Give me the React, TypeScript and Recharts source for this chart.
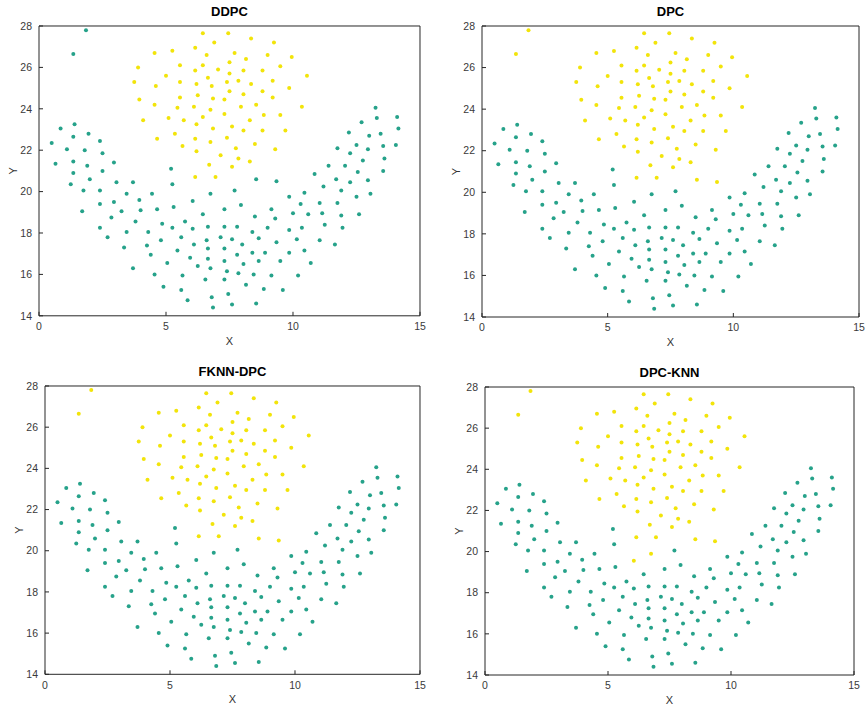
import React from 'react';
import { ScatterChart, Scatter, XAxis, YAxis } from 'recharts';

type Pt = [number, number];

// upper (flame) cluster
const upperCore: Pt[] = [
  [4.55, 26.7], [3.9, 26.0], [3.75, 25.3], [4.6, 25.1], [3.95, 24.45], [4.55, 24.2],
  [6.45, 27.65], [7.45, 27.65], [6.9, 27.2], [8.35, 27.4], [9.25, 27.2], [5.25, 26.8],
  [6.15, 26.95], [6.6, 26.6], [7.7, 26.7], [8.15, 26.4], [9.0, 26.6], [9.95, 26.5],
  [5.55, 26.1], [6.45, 26.1], [7.5, 26.25], [9.5, 26.05], [5.0, 25.6], [6.15, 25.85],
  [7.05, 25.9], [7.5, 25.7], [8.05, 25.85], [8.8, 25.85], [6.65, 25.5], [5.55, 25.3],
  [6.2, 25.2], [7.4, 25.3], [7.85, 25.35], [8.35, 25.2], [9.2, 25.35], [6.8, 25.1],
  [9.85, 25.0], [7.5, 24.85], [8.8, 24.85], [5.55, 24.55], [6.25, 24.65], [8.05, 24.7],
  [6.85, 24.5], [7.3, 24.45], [9.2, 24.55], [5.45, 24.05], [6.1, 24.1], [7.95, 24.1],
  [8.55, 24.2], [6.75, 23.95], [7.3, 23.75], [8.85, 23.7], [10.55, 25.6], [10.35, 24.1],
  [4.1, 23.45], [4.65, 22.55], [5.1, 23.55], [5.7, 23.45], [6.45, 23.6], [8.3, 23.45],
  [9.5, 23.7], [6.2, 23.25], [6.85, 23.05], [7.6, 23.15], [8.05, 22.95], [8.8, 22.95],
  [9.7, 22.95], [5.35, 22.8], [6.15, 22.55], [6.75, 22.4], [7.4, 22.6], [8.5, 22.3],
  [5.65, 22.2], [6.2, 21.95], [7.75, 22.1], [9.3, 22.05], [7.15, 21.75], [7.85, 21.6],
  [8.3, 21.45], [6.7, 21.3], [7.6, 21.2], [6.15, 20.7], [6.95, 20.7],
];

// lower (arc) cluster
const lowerCore: Pt[] = [
  [13.25, 24.05],
  [1.4, 23.25], [0.85, 23.05], [1.35, 22.65], [1.95, 22.8], [0.5, 22.35], [2.4, 22.45],
  [1.1, 22.05], [1.8, 22.0], [2.5, 21.85], [0.65, 21.35], [1.35, 21.45], [1.9, 21.25],
  [2.95, 21.4], [1.35, 20.9], [2.5, 21.0], [2.0, 20.6], [1.25, 20.35], [3.05, 20.45],
  [3.7, 20.45], [1.75, 20.05], [2.4, 20.05], [3.45, 19.9], [4.45, 19.9], [3.95, 19.6],
  [2.4, 19.4], [2.95, 19.5], [1.7, 19.05], [3.25, 19.05], [4.0, 19.1], [4.65, 19.15],
  [2.85, 18.75], [2.4, 18.25], [3.8, 18.55], [4.85, 18.45], [2.7, 17.8], [3.45, 18.05],
  [4.3, 18.05], [3.35, 17.3], [4.25, 17.4], [4.8, 17.65], [4.4, 16.95], [3.7, 16.3],
  [4.55, 16.0], [5.05, 16.55], [4.9, 15.4],
  [6.45, 18.9], [8.5, 18.8], [10.0, 18.95], [9.3, 18.7], [5.75, 18.55], [5.25, 18.25],
  [6.05, 18.2], [6.65, 18.3], [7.3, 18.3], [7.8, 18.3], [8.4, 18.05], [9.0, 18.25],
  [9.85, 18.15], [5.6, 17.8], [6.6, 17.65], [7.15, 17.8], [7.6, 17.7], [8.65, 17.75],
  [9.35, 17.55], [10.15, 17.7], [6.1, 17.45], [6.65, 17.25], [7.3, 17.25], [8.0, 17.45],
  [5.45, 17.15], [7.8, 16.95], [8.4, 17.05], [8.9, 17.05], [9.85, 17.05], [5.95, 16.8],
  [6.65, 16.75], [7.3, 16.65], [8.05, 16.5], [8.65, 16.65], [9.5, 16.65], [6.25, 16.4],
  [6.75, 16.3], [7.4, 16.15], [7.85, 16.05], [8.45, 16.0], [9.15, 15.95], [10.2, 15.95],
  [5.65, 15.95], [6.55, 15.75], [7.3, 15.75], [5.6, 15.25], [8.15, 15.5], [8.85, 15.3],
  [9.6, 15.25], [7.45, 15.05], [5.85, 14.75], [6.8, 14.9], [7.6, 14.55], [8.55, 14.6],
  [6.85, 14.4],
  [10.6, 18.9], [11.15, 18.95], [11.9, 18.85], [12.6, 18.9], [10.35, 18.25], [11.25, 18.4],
  [11.95, 18.25], [11.05, 17.65], [11.65, 17.45], [10.45, 17.15], [10.7, 16.55],
  [5.2, 21.1], [5.25, 20.35], [7.7, 20.05], [9.85, 19.75], [5.3, 19.25], [7.3, 19.15],
  [7.95, 19.35], [9.15, 19.15],
  [12.7, 23.35], [13.3, 23.55], [14.1, 23.6], [14.15, 23.05], [12.2, 22.85], [13.0, 22.7],
  [13.45, 22.8], [12.5, 22.25], [11.75, 22.1], [12.95, 22.05], [13.55, 22.2], [14.05, 22.25],
  [12.25, 21.85], [13.6, 21.6], [12.75, 21.5], [11.4, 21.25], [12.05, 21.25], [13.55, 21.0],
  [12.55, 20.95], [10.85, 20.85], [11.7, 20.6], [12.95, 20.55], [12.25, 20.45], [11.2, 20.25],
  [10.45, 19.95], [11.9, 20.05], [13.05, 19.9], [12.5, 19.75], [10.3, 19.4], [11.05, 19.45],
  [11.75, 19.45],
];

// points whose label changes between methods
const outliers: Pt[] = [[1.85, 27.8], [1.35, 26.65]];
const bridgeRight: Pt[] = [[8.55, 20.6], [9.35, 20.5]];
const bridgeLeft: Pt[] = [[6.75, 19.9], [6.05, 19.55]];

const xTicks = [0, 5, 10, 15];
const yTicks = [14, 16, 18, 20, 22, 24, 26, 28];

const TEAL = '#26a28a';
const YELLOW = '#f2e40a';
const AXIS = '#262626';

const panels = [
  {
    title: 'DDPC',
    yellow: [upperCore],
    teal: [lowerCore, outliers, bridgeRight, bridgeLeft],
    box: { l: 39.3, t: 25.5, r: 420.3, b: 315.3 },
  },
  {
    title: 'DPC',
    yellow: [upperCore, outliers, bridgeRight],
    teal: [lowerCore, bridgeLeft],
    box: { l: 482, t: 26, r: 859, b: 317 },
  },
  {
    title: 'FKNN-DPC',
    yellow: [upperCore, outliers, bridgeRight],
    teal: [lowerCore, bridgeLeft],
    box: { l: 44.7, t: 385.7, r: 419.7, b: 674 },
  },
  {
    title: 'DPC-KNN',
    yellow: [upperCore, outliers, bridgeRight, bridgeLeft],
    teal: [lowerCore],
    box: { l: 485, t: 387, r: 854, b: 675 },
  },
];

const toRows = (groups: Pt[][]) => groups.flat().map(([x, y]) => ({ x, y }));

const dot = (color: string) => (p: any) => (
  <circle cx={p.cx} cy={p.cy} r={2} fill={color} />
);

function Panel({ title, yellow, teal, box }: (typeof panels)[number]) {
  // axes are 1px thick bands (recharts skips 0-size axes)
  const mL = 45;
  const mT = 30;
  const mR = 12;
  const mB = 45;
  const w = box.r - box.l + mL + mR;
  const h = box.b - box.t + mT + mB;
  const tickFont = { fontSize: 10.5, fill: '#3a3a3a' };

  return (
    <div style={{ position: 'absolute', left: box.l - mL, top: box.t - mT }}>
      <ScatterChart width={w} height={h} margin={{ top: mT - 1, right: mR - 1, bottom: mB - 1, left: mL - 1 }}>
        <XAxis
          xAxisId="b"
          type="number"
          dataKey="x"
          domain={[0, 15]}
          ticks={xTicks}
          height={1}
          tickSize={-4}
          tickMargin={11}
          tick={tickFont}
          stroke={AXIS}
          allowDataOverflow
          label={{ value: 'X', position: 'bottom', offset: 20, fontSize: 11, fill: '#333' }}
        />
        <XAxis
          xAxisId="t"
          orientation="top"
          type="number"
          dataKey="x"
          domain={[0, 15]}
          ticks={xTicks}
          height={1}
          tickSize={-4}
          tick={false}
          stroke={AXIS}
          allowDataOverflow
          label={{ value: title, position: 'top', offset: 9, fontSize: 13, fontWeight: 'bold', fill: '#000' }}
        />
        <YAxis
          yAxisId="l"
          type="number"
          dataKey="y"
          domain={[14, 28]}
          ticks={yTicks}
          width={1}
          tickSize={-4}
          tickMargin={11}
          tick={tickFont}
          stroke={AXIS}
          allowDataOverflow
          label={{
            content: (props: any) => {
              const vb = props.viewBox;
              const x = vb.x - 25;
              const y = vb.y + vb.height / 2;
              return (
                <text x={x} y={y} transform={`rotate(-90 ${x} ${y})`} textAnchor="middle" dominantBaseline="central" fontSize={11} fill="#333">
                  Y
                </text>
              );
            },
          }}
        />
        <YAxis
          yAxisId="r"
          orientation="right"
          type="number"
          dataKey="y"
          domain={[14, 28]}
          ticks={yTicks}
          width={1}
          tickSize={-4}
          tick={false}
          stroke={AXIS}
          allowDataOverflow
        />
        <Scatter xAxisId="b" yAxisId="l" data={toRows(teal)} shape={dot(TEAL)} isAnimationActive={false} />
        <Scatter xAxisId="b" yAxisId="l" data={toRows(yellow)} shape={dot(YELLOW)} isAnimationActive={false} />
      </ScatterChart>
    </div>
  );
}

export default function App() {
  return (
    <div
      style={{
        position: 'absolute',
        left: 0,
        top: 0,
        width: 866,
        height: 711,
        background: '#fff',
        fontFamily: '"Liberation Sans", Arial, sans-serif',
      }}
    >
      {panels.map((p) => (
        <Panel key={p.title} {...p} />
      ))}
    </div>
  );
}
